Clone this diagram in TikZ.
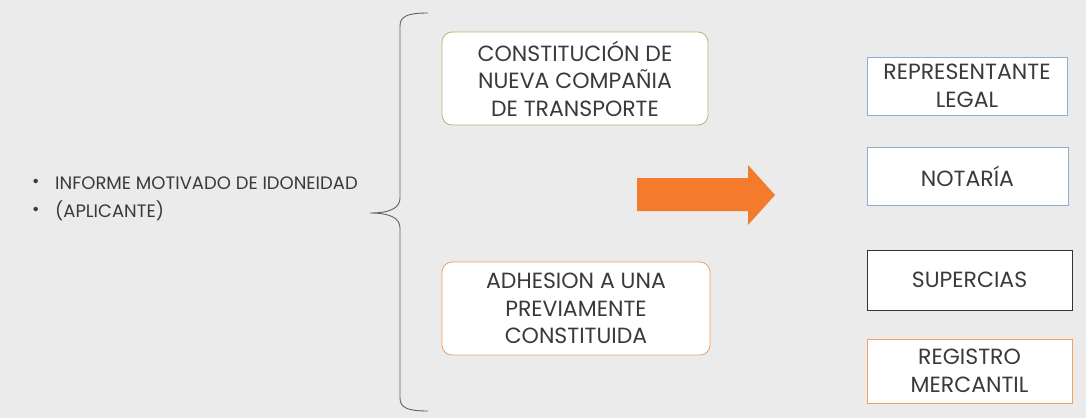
\documentclass[tikz,border=0pt]{standalone}
\usepackage{fontspec}
\setmainfont{Poppins}
\definecolor{bg}{HTML}{EBEBEB}
\definecolor{txt}{HTML}{3A3A3A}
\definecolor{greenb}{HTML}{9DC46E}
\definecolor{orangeb}{HTML}{F0A060}
\definecolor{blueb}{HTML}{8DB0D2}
\definecolor{arrowc}{HTML}{F37B2B}
\tikzset{
  every node/.style={text=txt},
  optbox/.style={draw, line width=0.8pt, rounded corners=10pt, fill=white, align=center,
    font=\fontsize{22}{27.5}\selectfont, inner sep=0pt},
  entbox/.style={draw, line width=0.8pt, fill=white, align=center,
    font=\fontsize{22}{28.5}\selectfont, inner sep=0pt},
  bullettext/.style={anchor=west, font=\fontsize{18}{20}\selectfont, inner sep=0pt},
}
\begin{document}
\begin{tikzpicture}[x=1pt,y=-1pt]
\fill[bg] (0,0) rectangle (1086,418);
\useasboundingbox (0,0) rectangle (1086,418);
% left list
\node[bullettext] (b1) at (32,183) {\textbullet};
\node[bullettext] (t1) at (55,183) {INFORME MOTIVADO DE IDONEIDAD};
\node[bullettext] (b2) at (32,211) {\textbullet};
\node[bullettext] (t2) at (55,211) {(APLICANTE)};
% brace
\coordinate (tip) at (370,213);
\draw[txt!80, line width=0.9pt] (428,13) .. controls (408,13) and (400,16) .. (400,26)
  -- (400,198) .. controls (400,208) and (390,213) .. (tip)
  .. controls (390,213) and (400,218) .. (400,228)
  -- (400,398) .. controls (400,408) and (408,411) .. (428,411);
% option boxes
\node[optbox, draw=greenb, minimum width=266pt, minimum height=93pt] (nueva) at (575,78.5)
  {CONSTITUCIÓN DE\\NUEVA COMPAÑIA\\DE TRANSPORTE};
\node[optbox, draw=orangeb, minimum width=268pt, minimum height=93pt] (adhesion) at (576,308.5)
  {ADHESION A UNA\\PREVIAMENTE\\CONSTITUIDA};
% arrow
\fill[arrowc] (637,178) -- (748,178) -- (748,165) -- (775,195) -- (748,225) -- (748,211) -- (637,211) -- cycle;
% entity boxes
\node[entbox, draw=blueb, minimum width=200pt, minimum height=58pt] (rep) at (967,86)
  {REPRESENTANTE\\LEGAL};
\node[entbox, draw=blueb, minimum width=201pt, minimum height=58pt] (notaria) at (967.5,176)
  {NOTARÍA};
\node[entbox, draw=black!80, minimum width=205pt, minimum height=60pt] (supercias) at (969.5,280)
  {SUPERCIAS};
\node[entbox, draw=orangeb, minimum width=205pt, minimum height=64pt] (registro) at (969.5,371)
  {REGISTRO\\MERCANTIL};
\end{tikzpicture}
\end{document}
